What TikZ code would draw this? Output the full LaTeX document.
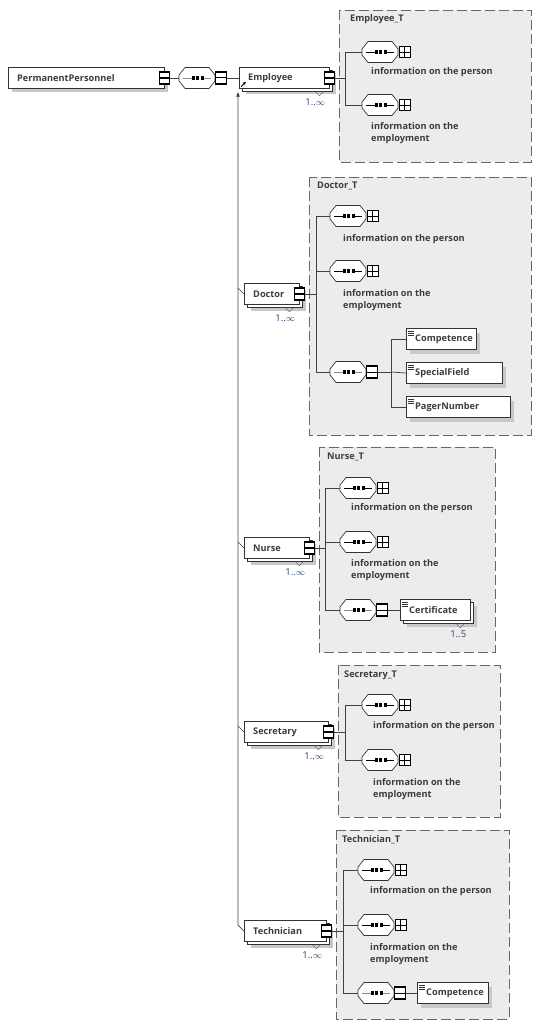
\documentclass[tikz,border=0pt]{standalone}
\usepackage{fontspec}
\setmainfont{Open Sans}
\usepackage{tikz}
\usetikzlibrary{shadows,arrows.meta}

\definecolor{txtgray}{RGB}{60,60,60}
\definecolor{occblue}{RGB}{45,65,110}
\definecolor{grpfill}{RGB}{236,236,236}
\definecolor{shadegray}{RGB}{200,200,200}

\tikzset{
  lbl/.style={font=\fontsize{9.2}{12}\selectfont\bfseries, text=txtgray, inner sep=0pt},
  occ/.style={font=\fontsize{9.5}{10}\selectfont, text=occblue, inner sep=0pt, anchor=east},
  conn/.style={draw=black!75, line width=0.7pt},
  grp/.style={draw=black!60, fill=grpfill, line width=0.7pt, dash pattern=on 10pt off 4pt},
  elem/.style={lbl, draw=black!80, fill=white, minimum height=21pt, minimum width=#1pt,
    text width=#1pt-18pt, align=left, anchor=west},
  elemone/.style={elem=#1, general shadow={fill=shadegray, shadow xshift=4pt, shadow yshift=-4pt}},
  elemmany/.style={elem=#1, general shadow={fill=shadegray, shadow xshift=7pt, shadow yshift=-6pt},
    copy shadow={shadow xshift=3pt, shadow yshift=-3pt}},
  simple/.style={path picture={
    \foreach \k in {2.5,4.5,6.5}
      \draw[line width=0.6pt] ([xshift=2pt,yshift=-\k pt]path picture bounding box.north west) -- ++(6,0);}},
  xsq/.style={draw=black, line width=1.3pt, fill=white, minimum width=10pt, minimum height=12pt, inner sep=0pt,
    path picture={\draw[line width=1.1pt] (path picture bounding box.west) -- (path picture bounding box.east);}},
  seqbody/.pic={
    \draw[draw=black!80, fill=white, line width=0.7pt] (0,-3) -- (6,-10.5) -- (30,-10.5) -- (36,-3)
      -- (36,3) -- (30,10.5) -- (6,10.5) -- (0,3) -- cycle;
    \foreach \q in {12.5,17,21.5} \fill (\q,-1.6) rectangle +(3,3.2);
    \coordinate (-in) at (0,0);
    \coordinate (-out) at (48,0);
  },
  seqopen/.pic={
    \pic {seqbody};
    \draw[black!45, line width=0.8pt] (4,0) -- (12.5,0) (24.5,0) -- (32,0);
    \draw[line width=1.3pt, fill=white] (36.5,-6) rectangle (47.5,6);
    \draw[line width=1pt] (36.5,0) -- (47.5,0);
  },
  seqshut/.pic={
    \pic {seqbody};
    \draw[black, line width=0.8pt] (4,0) -- (12.5,0) (24.5,0) -- (32,0);
    \draw[line width=1pt, fill=white] (37,-5.5) rectangle (48,5.5);
    \draw[line width=0.8pt] (42.5,-5.5) -- (42.5,5.5) (37,0) -- (48,0);
  }
}

\begin{document}
\begin{tikzpicture}[x=1pt, y=-1pt]
\useasboundingbox (0,0) rectangle (543,1027);

% group frames
\draw[grp] (339,10) rectangle (531,162);
\draw[grp] (309,177) rectangle (531,435);
\draw[grp] (319,447) rectangle (495,652);
\draw[grp] (338,665) rectangle (500,817);
\draw[grp] (336,830) rectangle (509,1019);
\node[lbl, anchor=west] (empT) at (350,19) {Employee\_T};
\node[lbl, anchor=west] (docT) at (317,186) {Doctor\_T};
\node[lbl, anchor=west] (nurT) at (327,457) {Nurse\_T};
\node[lbl, anchor=west] (secT) at (344,675) {Secretary\_T};
\node[lbl, anchor=west] (tecT) at (342,840) {Technician\_T};

% root
\node[elemone=156] (pp) at (8,78) {PermanentPersonnel};
\node[xsq] (ppx) at (pp.east) {};
\pic (top) at (179,78) {seqopen};
\draw[conn] (ppx.east) -- (top-in);

% members of the substitution group
\node[elemmany=90] (emp) at (239,78) {Employee};
\node[elemmany=55] (doc) at (244,294) {Doctor};
\node[elemmany=65] (nur) at (244,548) {Nurse};
\node[elemmany=84] (sec) at (244,732) {Secretary};
\node[elemmany=82] (tec) at (244,931) {Technician};
\foreach \n in {emp,doc,nur,sec,tec}
  \node[xsq] (\n x) at (\n.east) {};
\draw[conn] (top-out) -- (emp.west);
\draw[-{Latex[length=3pt,width=3pt]}, line width=0.9pt] ([xshift=2pt,yshift=2pt]emp.south west) -- ++(5,-5);

\coordinate (subtop) at ([xshift=-1pt,yshift=-3pt]emp.south west);
\draw[conn, -{Latex[length=5pt,width=4pt]}] (tec.west) -- ++(-6,-6) -- (subtop);
\foreach \n in {doc,nur,sec}
  \draw[conn] (\n.west) -- ++(-6,-6);

% Employee_T
\pic (es1) at (362,52) {seqshut};
\node[lbl, anchor=west] (es1t) at (371,72) {information on the person};
\pic (es2) at (362,105) {seqshut};
\node[lbl, anchor=west, align=left] (es2t) at (371,133) {information on the\\employment};
\draw[conn] (empx.east) -- ++(10,0) coordinate (esp) |- (es1-in);
\draw[conn] (esp) |- (es2-in);

% Doctor_T
\pic (ds1) at (330,216) {seqshut};
\node[lbl, anchor=west] (ds1t) at (343,239) {information on the person};
\pic (ds2) at (330,271) {seqshut};
\node[lbl, anchor=west, align=left] (ds2t) at (343,300) {information on the\\employment};
\pic (ds3) at (330,372) {seqopen};
\node[elemone=70, simple] (comp) at (406,339) {Competence};
\node[elemone=96, simple] (spec) at (406,373) {SpecialField};
\node[elemone=104, simple] (pager) at (406,407) {PagerNumber};
\draw[conn] (docx.east) -- ++(11,0) coordinate (dsp) |- (ds1-in);
\draw[conn] (dsp) |- (ds2-in);
\draw[conn] (dsp) |- (ds3-in);
\draw[conn] (ds3-out) -- ++(13,0) coordinate (dsq) |- (comp.west);
\draw[conn] (dsq) -- (spec.west);
\draw[conn] (dsq) |- (pager.west);

% Nurse_T
\pic (ns1) at (340,488) {seqshut};
\node[lbl, anchor=west] (ns1t) at (351,508) {information on the person};
\pic (ns2) at (340,542) {seqshut};
\node[lbl, anchor=west, align=left] (ns2t) at (351,570) {information on the\\employment};
\pic (ns3) at (340,610) {seqopen};
\node[elemmany=70, simple] (cert) at (400,610) {Certificate};
\draw[conn] (nurx.east) -- ++(10,0) coordinate (nsp) |- (ns1-in);
\draw[conn] (nsp) |- (ns2-in);
\draw[conn] (nsp) |- (ns3-in);
\draw[conn] (ns3-out) -- (cert.west);

% Secretary_T
\pic (ss1) at (362,705) {seqshut};
\node[lbl, anchor=west] (ss1t) at (373,726) {information on the person};
\pic (ss2) at (362,760) {seqshut};
\node[lbl, anchor=west, align=left] (ss2t) at (373,789) {information on the\\employment};
\draw[conn] (secx.east) -- ++(11,0) coordinate (ssp) |- (ss1-in);
\draw[conn] (ssp) |- (ss2-in);

% Technician_T
\pic (ts1) at (358,870) {seqshut};
\node[lbl, anchor=west] (ts1t) at (370,891) {information on the person};
\pic (ts2) at (358,925) {seqshut};
\node[lbl, anchor=west, align=left] (ts2t) at (370,954) {information on the\\employment};
\pic (ts3) at (358,993) {seqopen};
\node[elemone=71, simple] (comp2) at (417,993) {Competence};
\draw[conn] (tecx.east) -- ++(11,0) coordinate (tsp) |- (ts1-in);
\draw[conn] (tsp) |- (ts2-in);
\draw[conn] (tsp) |- (ts3-in);
\draw[conn] (ts3-out) -- (comp2.west);

% occurrences
\foreach \n/\o in {emp/1..$\infty$, doc/1..$\infty$, nur/1..$\infty$, sec/1..$\infty$, tec/1..$\infty$, cert/1..5} {
  \draw[black!70] ([xshift=-14pt,yshift=-3pt]\n.south east) -- ++(4,4) -- ++(4,-4);
  \node[occ] (\n occ) at ([xshift=-4pt,yshift=-13pt]\n.south east) {\o};
}
\end{tikzpicture}
\end{document}
